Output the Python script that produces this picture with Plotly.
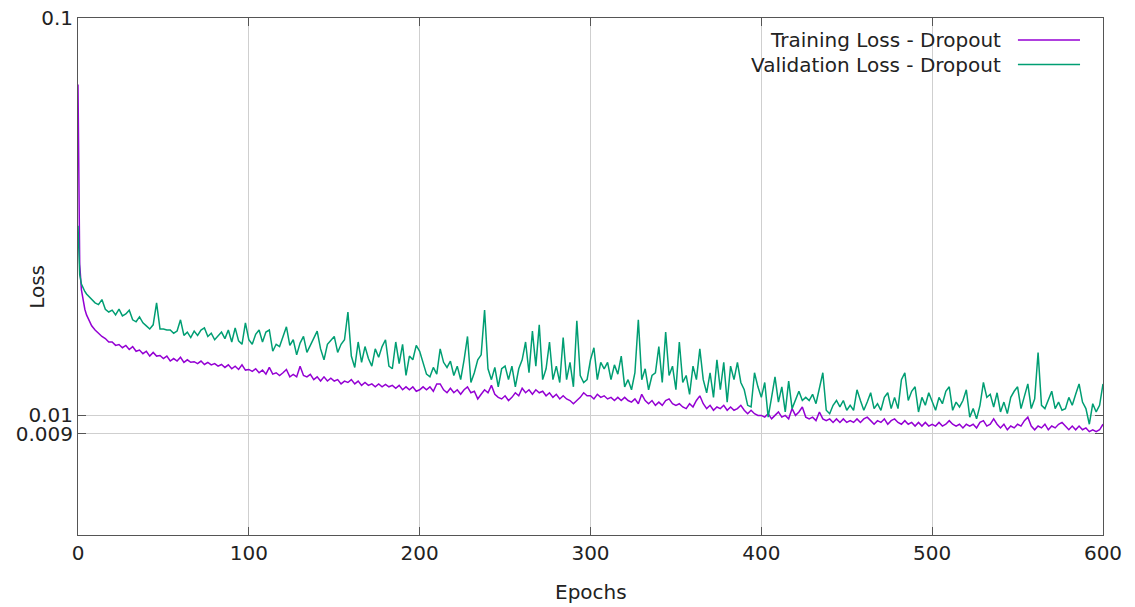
import plotly.graph_objects as go

# ---- loss history -------------------------------------------------------
# first epochs are logged every epoch
head_epochs = [0, 1, 2, 3, 4, 5, 6]
train_head = [0.068, 0.0240, 0.0207, 0.0194, 0.0185, 0.0179, 0.0175]
val_head = [0.0300, 0.0226, 0.0214, 0.0209, 0.0205, 0.0202, 0.0200]

# from epoch 8 on, one value every second epoch
train_008_098 = [0.0168, 0.0164, 0.0161, 0.0158, 0.01561, 0.0153, 0.0153, 0.0150, 0.01508, 0.0148,
                 0.0150, 0.01465, 0.0149, 0.0145, 0.0146, 0.0143, 0.0145, 0.0141, 0.0144, 0.0141,
                 0.01415, 0.0139, 0.0141, 0.0137, 0.0139, 0.0137, 0.0140, 0.0136, 0.0138, 0.0136,
                 0.01365, 0.0135, 0.0137, 0.01343, 0.0136, 0.0134, 0.0135, 0.0133, 0.01343, 0.0132,
                 0.0134, 0.0131, 0.0133, 0.01305, 0.0134, 0.0130]
train_100_198 = [0.01305, 0.0129, 0.0131, 0.0128, 0.0130, 0.0127, 0.0132, 0.0127, 0.0128, 0.0126,
                 0.0128, 0.01305, 0.0125, 0.01268, 0.0125, 0.0133, 0.0126, 0.0125, 0.01268, 0.0123,
                 0.0125, 0.0122, 0.0125, 0.0122, 0.0124, 0.0122, 0.0123, 0.0120, 0.0122, 0.0121,
                 0.0123, 0.0120, 0.0122, 0.0119, 0.0121, 0.0119, 0.0120, 0.0118, 0.0120, 0.0118,
                 0.01197, 0.0118, 0.0119, 0.0117, 0.0119, 0.0116, 0.0118, 0.0116, 0.0118, 0.0115]
train_200_298 = [0.0116, 0.0118, 0.0116, 0.0118, 0.0115, 0.0120, 0.0120, 0.0116, 0.0114, 0.0117,
                 0.0114, 0.0116, 0.0113, 0.0116, 0.0118, 0.0114, 0.0115, 0.0110, 0.0113, 0.0116,
                 0.0114, 0.0119, 0.0113, 0.0111, 0.0110, 0.0112, 0.0109, 0.0111, 0.0114, 0.0112,
                 0.0117, 0.0114, 0.0116, 0.0113, 0.0116, 0.0114, 0.0115, 0.0112, 0.0114, 0.0111,
                 0.0113, 0.0110, 0.0112, 0.0110, 0.0109, 0.0107, 0.0109, 0.0111, 0.0114, 0.0112]
train_300_398 = [0.0112, 0.0110, 0.0113, 0.0111, 0.0112, 0.0110, 0.0111, 0.0109, 0.0111, 0.0109,
                 0.0111, 0.0109, 0.0108, 0.0110, 0.0107, 0.0113, 0.0109, 0.0107, 0.0109, 0.0106,
                 0.0108, 0.0106, 0.0109, 0.0110, 0.0107, 0.0106, 0.0107, 0.0105, 0.0104, 0.0107,
                 0.0105, 0.0109, 0.0112, 0.0107, 0.0104, 0.0106, 0.0103, 0.0105, 0.0104, 0.0106,
                 0.0103, 0.0105, 0.0103, 0.0104, 0.0106, 0.0103, 0.0101, 0.0103, 0.0101, 0.0100]
train_400_498 = [0.0100, 0.0099, 0.0101, 0.0098, 0.0100, 0.0102, 0.0099, 0.0100, 0.0098, 0.0104,
                 0.0100, 0.0102, 0.0105, 0.0099, 0.0098, 0.0099, 0.0097, 0.0102, 0.0098, 0.0097,
                 0.0098, 0.0096, 0.0098, 0.0096, 0.0098, 0.0096, 0.0097, 0.0096, 0.0098, 0.0096,
                 0.0098, 0.0099, 0.0097, 0.0095, 0.0097, 0.0096, 0.0098, 0.0095, 0.0097, 0.0098,
                 0.0096, 0.0095, 0.0097, 0.0095, 0.0096, 0.0094, 0.0096, 0.0094, 0.0096, 0.0094]
train_500_600 = [0.0095, 0.0094, 0.0096, 0.0094, 0.0095, 0.0097, 0.0095, 0.0094, 0.0095, 0.0093,
                 0.0095, 0.0094, 0.0095, 0.0093, 0.0096, 0.0097, 0.0094, 0.0095, 0.0098, 0.0095,
                 0.0093, 0.0095, 0.0092, 0.0094, 0.0093, 0.0095, 0.0094, 0.0097, 0.0099, 0.0094,
                 0.0092, 0.0094, 0.0093, 0.0095, 0.0092, 0.0094, 0.0093, 0.0095, 0.0096, 0.0094,
                 0.0092, 0.0094, 0.0092, 0.0094, 0.0092, 0.0093, 0.0091, 0.0092, 0.0091, 0.0092,
                 0.0095]

val_008_098 = [0.0197, 0.0192, 0.0190, 0.01956, 0.0185, 0.0182, 0.0184, 0.0179, 0.0185, 0.0178,
               0.0180, 0.0184, 0.0174, 0.0172, 0.0177, 0.0171, 0.0168, 0.0165, 0.0169, 0.0192,
               0.0165, 0.0165, 0.0164, 0.0164, 0.0161, 0.0163, 0.0174, 0.0159, 0.0162, 0.0157,
               0.0163, 0.0159, 0.0164, 0.0166, 0.0158, 0.0161, 0.0155, 0.0159, 0.0162, 0.0156,
               0.0164, 0.0153, 0.0166, 0.0154, 0.0151, 0.0171]
val_100_198 = [0.0155, 0.0151, 0.0160, 0.0164, 0.0153, 0.0162, 0.0164, 0.0145, 0.0151, 0.0149,
               0.0157, 0.0167, 0.0150, 0.0155, 0.0142, 0.0152, 0.0158, 0.0144, 0.0150, 0.0156,
               0.0163, 0.0147, 0.0138, 0.0151, 0.0154, 0.0158, 0.0144, 0.0151, 0.0155, 0.0182,
               0.0141, 0.0132, 0.0153, 0.0136, 0.0149, 0.0139, 0.0133, 0.0147, 0.0140, 0.0149,
               0.0155, 0.0133, 0.0131, 0.0153, 0.0135, 0.0151, 0.0126, 0.0141, 0.0138, 0.0150]
val_200_298 = [0.0145, 0.0136, 0.0127, 0.0125, 0.0132, 0.0127, 0.0147, 0.0136, 0.0132, 0.0137,
               0.0126, 0.0133, 0.0123, 0.0138, 0.0158, 0.0121, 0.0128, 0.0138, 0.0142, 0.0184,
               0.0131, 0.0123, 0.0132, 0.0118, 0.0131, 0.0133, 0.0123, 0.0133, 0.0118, 0.0131,
               0.0138, 0.0153, 0.0128, 0.0163, 0.0133, 0.0169, 0.0123, 0.0131, 0.0153, 0.0123,
               0.0133, 0.0121, 0.0157, 0.0123, 0.0136, 0.0118, 0.0173, 0.0126, 0.0121, 0.0123]
val_300_398 = [0.0138, 0.0148, 0.0123, 0.0136, 0.0131, 0.0136, 0.0123, 0.0134, 0.0127, 0.0141,
               0.0118, 0.0123, 0.0116, 0.0128, 0.0174, 0.0123, 0.0131, 0.0116, 0.0126, 0.0128,
               0.0149, 0.0121, 0.0162, 0.0126, 0.0133, 0.0116, 0.0153, 0.0121, 0.0126, 0.0113,
               0.0133, 0.0123, 0.0147, 0.0123, 0.0114, 0.0128, 0.0111, 0.0138, 0.0116, 0.0136,
               0.0108, 0.0133, 0.0123, 0.0136, 0.0121, 0.0116, 0.0106, 0.0105, 0.0128, 0.0118]
val_400_498 = [0.0111, 0.0121, 0.0099, 0.0111, 0.0125, 0.0108, 0.0118, 0.0102, 0.0122, 0.0104,
               0.0110, 0.0115, 0.0109, 0.0111, 0.0109, 0.0113, 0.0107, 0.0118, 0.0128, 0.0103,
               0.0101, 0.0106, 0.0109, 0.0105, 0.0109, 0.0103, 0.0106, 0.0103, 0.0116, 0.0109,
               0.0103, 0.0108, 0.0114, 0.0104, 0.0107, 0.0103, 0.0111, 0.0114, 0.0104, 0.0111,
               0.0104, 0.0123, 0.0128, 0.0109, 0.0115, 0.0118, 0.0102, 0.0111, 0.0106, 0.0114]
val_500_600 = [0.0108, 0.0103, 0.0111, 0.0107, 0.0115, 0.0118, 0.0103, 0.0108, 0.0105, 0.0109,
               0.0116, 0.0099, 0.0104, 0.0098, 0.0106, 0.0121, 0.0111, 0.0113, 0.0105, 0.0114,
               0.0102, 0.0108, 0.0101, 0.0111, 0.0115, 0.0118, 0.0104, 0.0111, 0.0120, 0.0104,
               0.0110, 0.0144, 0.0106, 0.0104, 0.0110, 0.0115, 0.0104, 0.0108, 0.0103, 0.0104,
               0.0111, 0.0106, 0.0113, 0.0120, 0.0108, 0.0104, 0.0095, 0.0107, 0.0102, 0.0106,
               0.0120]

block_starts = [8, 100, 200, 300, 400, 500]
train_blocks = [train_008_098, train_100_198, train_200_298, train_300_398, train_400_498, train_500_600]
val_blocks = [val_008_098, val_100_198, val_200_298, val_300_398, val_400_498, val_500_600]


def assemble(head, blocks):
    xs, ys = list(head_epochs), list(head)
    for start, vals in zip(block_starts, blocks):
        xs += list(range(start, start + 2 * len(vals), 2))
        ys += vals
    return xs, ys


train_x, train_y = assemble(train_head, train_blocks)
val_x, val_y = assemble(val_head, val_blocks)

x_ticks = [0, 100, 200, 300, 400, 500, 600]
y_ticks = [0.009, 0.01, 0.1]
y_tick_text = ["0.009", "0.01", "0.1"]

series_names = ["Training Loss - Dropout", "Validation Loss - Dropout"]
series_colors = ["#9400d3", "#009e73"]

FONT = "DejaVu Sans"
TEXT = "#222222"

fig = go.Figure()
fig.add_trace(go.Scatter(x=train_x, y=train_y, mode="lines", name=series_names[0],
                         line=dict(color=series_colors[0], width=1.5)))
fig.add_trace(go.Scatter(x=val_x, y=val_y, mode="lines", name=series_names[1],
                         line=dict(color=series_colors[1], width=1.5)))

# key in the upper right: text first, sample line after it
for i, (name, color) in enumerate(zip(series_names, series_colors)):
    ypos = 0.9574 - i * 0.0474
    fig.add_annotation(xref="paper", yref="paper", x=0.9024, y=ypos, text=name,
                       showarrow=False, xanchor="right", yanchor="middle",
                       font=dict(family=FONT, size=20, color=TEXT))
    fig.add_shape(type="line", xref="paper", yref="paper", x0=0.917, x1=0.9776,
                  y0=ypos, y1=ypos, line=dict(color=color, width=1.5))

fig.add_annotation(xref="paper", yref="paper", x=0.5, y=-0.110, text="Epochs",
                   showarrow=False, xanchor="center", yanchor="middle",
                   font=dict(family=FONT, size=20, color=TEXT))
fig.add_annotation(xref="paper", yref="paper", x=-0.040, y=0.48, text="Loss",
                   showarrow=False, textangle=-90, xanchor="center", yanchor="middle",
                   font=dict(family=FONT, size=20, color=TEXT))

axis_common = dict(showline=True, linecolor="#555555", linewidth=1, mirror="ticks",
                   ticks="inside", ticklen=8, tickcolor="#555555", automargin=False,
                   showgrid=True, gridcolor="#cfcfcf", gridwidth=1, zeroline=False,
                   tickfont=dict(family=FONT, size=20, color=TEXT))

fig.update_xaxes(range=[0, 600], tickvals=x_ticks, **axis_common)
fig.update_yaxes(type="log", range=[-2.30103, -1], tickvals=y_ticks, ticktext=y_tick_text,
                 **axis_common)

fig.update_layout(width=1135, height=607, margin=dict(l=78, r=32, t=18, b=72),
                  paper_bgcolor="white", plot_bgcolor="white", showlegend=False,
                  font=dict(family=FONT, size=20, color=TEXT))

fig.write_html("out.html")
